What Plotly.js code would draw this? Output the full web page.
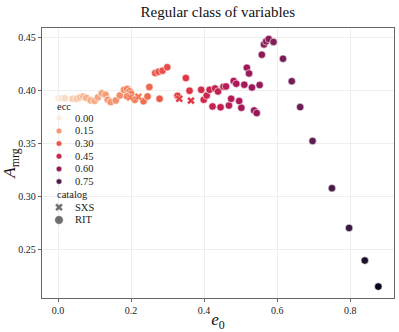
<!DOCTYPE html>
<html>
<head>
<meta charset="utf-8">
<script src="https://cdn.plot.ly/plotly-3.0.1.min.js"></script>
<style>
  html, body { margin: 0; padding: 0; background: #fff; }
  #chart { width: 399px; height: 332px; }
</style>
</head>
<body>
<div id="chart"></div>
<script>
// RIT runs
const RIT_E0 = [0.001, 0.010, 0.019, 0.040, 0.051, 0.060, 0.069, 0.077, 0.089, 0.100,
  0.109, 0.120, 0.130, 0.136, 0.144, 0.158, 0.169, 0.181, 0.189, 0.196,
  0.200, 0.189, 0.210, 0.234, 0.245, 0.250, 0.266, 0.275, 0.286, 0.299,
  0.278, 0.327, 0.350, 0.360, 0.392, 0.399, 0.407, 0.415, 0.423, 0.430,
  0.438, 0.445, 0.453, 0.460, 0.468, 0.474, 0.481, 0.488, 0.496, 0.502,
  0.510, 0.517, 0.523, 0.531, 0.537, 0.544, 0.552, 0.558, 0.564, 0.570,
  0.577, 0.590, 0.616, 0.640, 0.663, 0.697, 0.750, 0.797, 0.840, 0.877];
const RIT_A = [0.3931, 0.3931, 0.3931, 0.3926, 0.3926, 0.3939, 0.3948, 0.3936, 0.3912, 0.3907,
  0.3939, 0.3978, 0.3964, 0.3917, 0.3895, 0.3910, 0.3957, 0.4011, 0.4019, 0.3997,
  0.3974, 0.3950, 0.3917, 0.3903, 0.3948, 0.4037, 0.4169, 0.4181, 0.4191, 0.4224,
  0.3926, 0.3955, 0.4122, 0.4002, 0.4011, 0.3917, 0.3957, 0.4011, 0.3854, 0.4024,
  0.3995, 0.3846, 0.4040, 0.4043, 0.3863, 0.3926, 0.4094, 0.4068, 0.3905, 0.3841,
  0.4059, 0.4219, 0.4165, 0.4033, 0.3816, 0.3791, 0.4056, 0.4342, 0.4439, 0.4468,
  0.4490, 0.4462, 0.4304, 0.4092, 0.3848, 0.3528, 0.3083, 0.2708, 0.2401, 0.2155];
const RIT_ECC = [0.00, 0.01, 0.02, 0.04, 0.05, 0.06, 0.07, 0.08, 0.09, 0.10,
  0.11, 0.12, 0.13, 0.14, 0.15, 0.16, 0.17, 0.19, 0.20, 0.20,
  0.21, 0.20, 0.22, 0.24, 0.25, 0.26, 0.29, 0.30, 0.31, 0.32,
  0.29, 0.34, 0.37, 0.38, 0.42, 0.43, 0.44, 0.45, 0.46, 0.46,
  0.47, 0.48, 0.49, 0.50, 0.50, 0.51, 0.52, 0.53, 0.53, 0.54,
  0.55, 0.56, 0.57, 0.57, 0.58, 0.58, 0.59, 0.60, 0.61, 0.61,
  0.62, 0.63, 0.65, 0.67, 0.69, 0.72, 0.77, 0.82, 0.86, 0.90];

// SXS runs
const SXS_E0 = [0.197, 0.220, 0.332, 0.364];
const SXS_A = [0.3939, 0.3945, 0.3926, 0.3909];
const SXS_ECC = [0.20, 0.22, 0.35, 0.38];

// legend
const ECC_TICKS = [0.00, 0.15, 0.30, 0.45, 0.60, 0.75];
const CATALOGS = ["SXS", "RIT"];

const ECC_MAX = 0.90;
const SERIF = "Liberation Serif, Times New Roman, serif";
const rocketR = [
  [0, '#faebdd'], [0.0833, '#f6b48f'], [0.25, '#f37651'], [0.4167, '#e13342'],
  [0.5833, '#ad1759'], [0.75, '#701f57'], [0.9167, '#35193e'], [1, '#03051a']
];

function hueMarker(vals, extra) {
  return Object.assign({
    color: vals, colorscale: rocketR, cmin: 0, cmax: ECC_MAX,
    showscale: false
  }, extra);
}

const traces = [
  {
    type: 'scatter', mode: 'markers', name: 'RIT',
    x: RIT_E0, y: RIT_A,
    marker: hueMarker(RIT_ECC, { size: 7.5, symbol: 'circle', line: { color: '#fff', width: 0.6 } })
  },
  {
    type: 'scatter', mode: 'markers', name: 'SXS',
    x: SXS_E0, y: SXS_A,
    marker: hueMarker(SXS_ECC, { size: 7, symbol: 'x', line: { color: '#fff', width: 0.4 } })
  },
  // legend: hue entries
  {
    type: 'scatter', mode: 'markers', xaxis: 'x2', yaxis: 'y2',
    x: ECC_TICKS.map(() => 59), y: ECC_TICKS.map((_, i) => 118.3 + i * 12.65),
    marker: hueMarker(ECC_TICKS, { size: 5.5, line: { color: '#fff', width: 0.4 } })
  },
  // legend: catalog entries
  {
    type: 'scatter', mode: 'markers', xaxis: 'x2', yaxis: 'y2',
    x: CATALOGS.map(() => 59), y: CATALOGS.map((_, i) => 207.3 + i * 12.65),
    marker: { color: '#333', size: [7, 8.5], symbol: ['x', 'circle'], line: { color: '#fff', width: 0.4 } }
  }
];

const annotations = [];
const legText = (t, x, y) => annotations.push({
  text: t, x: x, y: y, xref: 'x2', yref: 'y2', xanchor: 'left', yanchor: 'middle',
  showarrow: false, font: { family: SERIF, size: 10.5, color: '#222' }
});
legText('ecc', 55, 106);
ECC_TICKS.forEach((v, i) => legText(v.toFixed(2), 73, 118.3 + i * 12.65));
legText('catalog', 55, 194.3);
CATALOGS.forEach((c, i) => legText(c, 73, 207.3 + i * 12.65));

const axisCommon = {
  showline: true, mirror: true, linecolor: '#666', linewidth: 1.3,
  showgrid: true, gridcolor: '#eeeeee', gridwidth: 1, zeroline: false,
  ticks: 'outside', ticklen: 3, tickcolor: '#666', tickwidth: 1,
  tickfont: { family: SERIF, size: 10, color: '#222' }
};

const layout = {
  width: 399, height: 332,
  margin: { l: 42, r: 5, t: 28, b: 34 },
  paper_bgcolor: '#fff', plot_bgcolor: '#fff',
  showlegend: false, hovermode: false,
  title: {
    text: 'Regular class of variables', x: 0.546, xanchor: 'center', y: 0.965, yanchor: 'middle',
    font: { family: SERIF, size: 15, color: '#111' }
  },
  xaxis: Object.assign({}, axisCommon, {
    range: [-0.044, 0.920], tickvals: [0, 0.2, 0.4, 0.6, 0.8], ticktext: ['0.0', '0.2', '0.4', '0.6', '0.8'],
    title: { text: '<i>e</i><sub>0</sub>', font: { family: SERIF, size: 17, color: '#111' }, standoff: 6 }
  }),
  yaxis: Object.assign({}, axisCommon, {
    range: [0.2047, 0.4594], tickvals: [0.25, 0.30, 0.35, 0.40, 0.45], ticktext: ['0.25', '0.30', '0.35', '0.40', '0.45'],
    title: { text: '<i>A</i><sub>mrg</sub>', font: { family: SERIF, size: 17, color: '#111' }, standoff: 4 }
  }),
  xaxis2: { overlaying: 'x', range: [42, 394], visible: false, fixedrange: true },
  yaxis2: { overlaying: 'y', range: [298, 28], visible: false, fixedrange: true },
  annotations: annotations
};

Plotly.newPlot('chart', traces, layout, { displayModeBar: false, staticPlot: true });
</script>
</body>
</html>
